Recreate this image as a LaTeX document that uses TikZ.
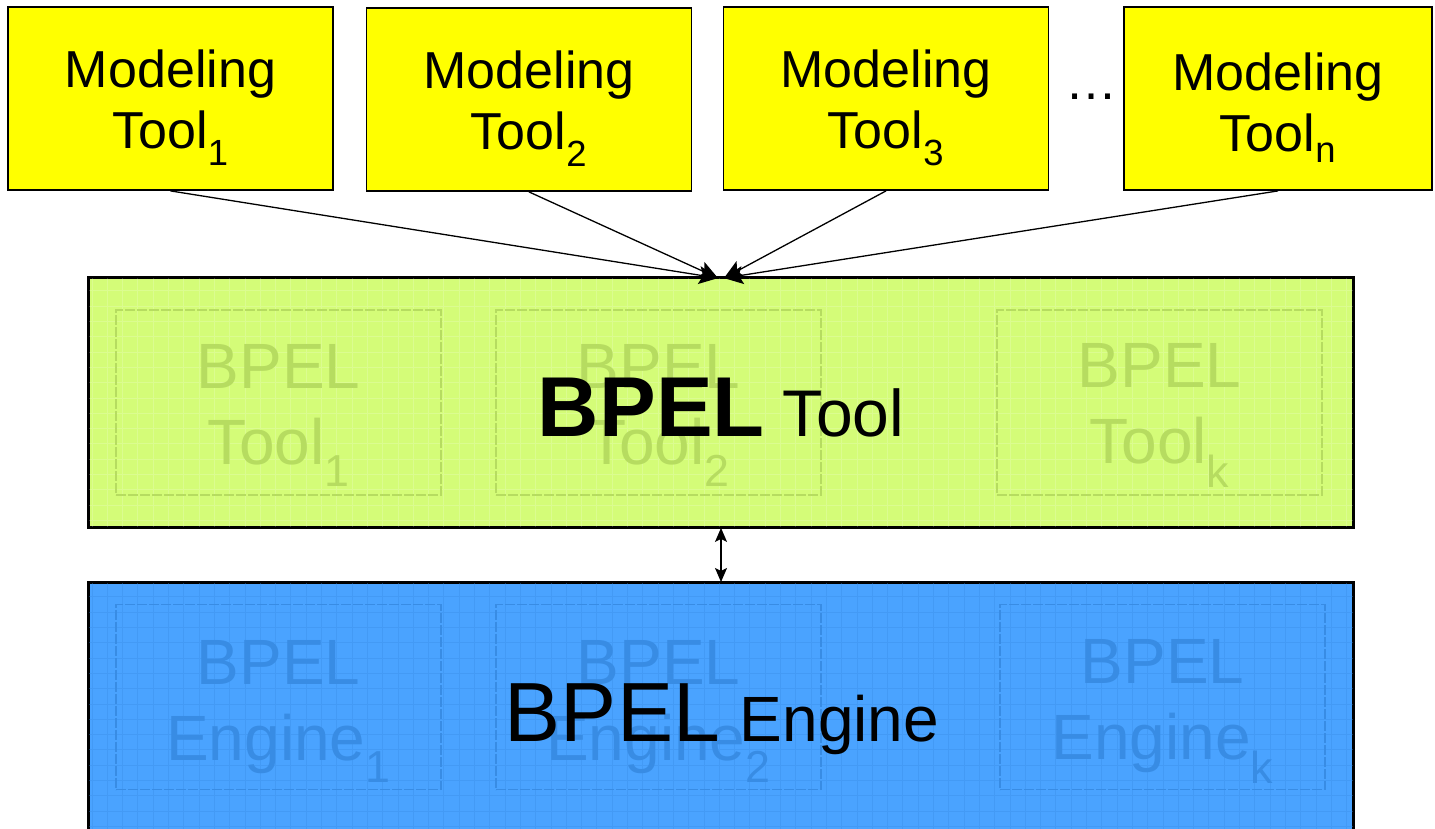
\documentclass[tikz,border=0pt]{standalone}
\usepackage{fontspec}
\setmainfont{Liberation Sans}
\usetikzlibrary{arrows.meta}

\definecolor{toolyellow}{RGB}{255,255,0}
\definecolor{toolgreen}{RGB}{212,252,120}
\definecolor{toolgreenink}{RGB}{182,220,96}
\definecolor{engblue}{RGB}{74,163,255}
\definecolor{engblueink}{RGB}{56,140,228}

\tikzset{
  x=1pt, y=-1pt,
  modbox/.style={draw=black, line width=1.8pt, fill=toolyellow,
    minimum width=325pt, minimum height=183pt, inner sep=0pt,
    align=center, font=\fontsize{52}{61}\selectfont},
  layerbox/.style={draw=black, line width=1.8pt, minimum width=1264pt, inner sep=0pt},
  ghost/.style={dash pattern=on 10pt off 2pt, line width=1.3pt,
    minimum width=325pt, minimum height=185pt, inner sep=0pt,
    align=center, font=\fontsize{64}{76}\selectfont},
  ghostT/.style={ghost, draw=toolgreenink, text=toolgreenink},
  ghostE/.style={ghost, draw=engblueink, text=engblueink},
  gridT/.style={draw=white, opacity=0.18, line width=0.6pt},
  gridE/.style={draw=engblueink, opacity=0.35, line width=0.6pt},
  feed/.style={line width=1.3pt, -{Stealth[length=19pt,width=18pt,inset=4pt]}},
  link/.style={line width=1.3pt, {Stealth[length=14pt,width=12pt,inset=3pt]}-{Stealth[length=14pt,width=12pt,inset=3pt]}},
}
% first-line struts that set where the two-line labels sit in their boxes
\newcommand{\modstrut}{\rule{0pt}{56pt}}
\newcommand{\toolstrut}{\rule{0pt}{70pt}}
\newcommand{\engstrut}{\rule{0pt}{73pt}}

\begin{document}
\begin{tikzpicture}
\useasboundingbox (0,0) rectangle (1435,828);
\clip (0,0) rectangle (1435,828);
\fill[white] (0,0) rectangle (1435,828);

% modeling tools
\node[modbox] (m1) at (170.5,98.5) {\modstrut Modeling\\Tool\textsubscript{1}};
\node[modbox] (m2) at (529,99.5) {\modstrut Modeling\\Tool\textsubscript{2}};
\node[modbox] (m3) at (886,98.5) {\modstrut Modeling\\Tool\textsubscript{3}};
\node[modbox, minimum width=308pt] (mn) at (1278,98.5) {\modstrut Modeling\\Tool\textsubscript{n}};
\node[font=\fontsize{52}{62}\selectfont, anchor=base, inner sep=0pt] (dots) at (1091,99) {…};

% BPEL tool layer
\node[layerbox, fill=toolgreen, minimum height=249pt] (tool) at (721,402.5) {};
\begin{scope}
  \clip (89,278) rectangle (1353,527);
  \draw[gridT, step=15.3pt] (89,278) grid (1353,527);
\end{scope}
\node[ghostT] (t1) at (278.5,402.5) {\toolstrut BPEL\\Tool\textsubscript{1}};
\node[ghostT] (t2) at (658.5,402.5) {\toolstrut BPEL\\Tool\textsubscript{2}};
\node[ghostT] (tk) at (1159.5,402.5) {\toolstrut BPEL\\Tool\textsubscript{k}};
\node[anchor=base, inner sep=0pt] (toollabel) at (721,436)
  {\fontsize{85}{100}\selectfont\bfseries BPEL\fontsize{66}{80}\mdseries\selectfont{} Tool};
\draw[line width=1.8pt] (tool.north west) rectangle (tool.south east);

% BPEL engine layer
\node[layerbox, fill=engblue, minimum height=270pt, anchor=north] (engine) at (721,582) {};
\begin{scope}
  \clip (89,582) rectangle (1353,852);
  \draw[gridE, step=15.3pt] (89,582) grid (1353,852);
\end{scope}
\node[ghostE] (e1) at (278.5,697) {\engstrut BPEL\\Engine\textsubscript{1}};
\node[ghostE] (e2) at (658.5,697) {\engstrut BPEL\\Engine\textsubscript{2}};
\node[ghostE] (ek) at (1162.5,697) {\engstrut BPEL\\Engine\textsubscript{k}};
\node[anchor=base, inner sep=0pt] (enginelabel) at (722,741)
  {\fontsize{84}{100}\selectfont BPEL\fontsize{64}{76}\selectfont\kern20pt Engine};
\draw[line width=1.8pt] (engine.north west) rectangle (engine.south east);

% connectors
\draw[feed] (m1.south) -- ([xshift=-3pt,yshift=-1pt]tool.north);
\draw[feed] (m2.south) -- ([xshift=-3pt,yshift=-1pt]tool.north);
\draw[feed] (m3.south) -- ([xshift=3pt,yshift=-1pt]tool.north);
\draw[feed] (mn.south) -- ([xshift=3pt,yshift=-1pt]tool.north);
\draw[link] (tool.south) -- (engine.north);
\end{tikzpicture}
\end{document}
